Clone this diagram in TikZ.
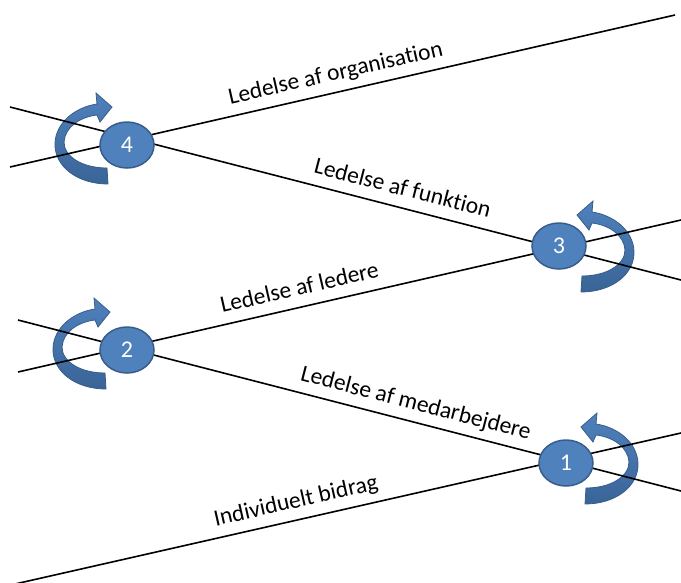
\documentclass[tikz,border=0pt]{standalone}
\usepackage{fontspec}
\setmainfont{Carlito}[Ligatures=NoCommon]
\usetikzlibrary{positioning, shapes.geometric, calc}
\definecolor{stagefill}{HTML}{4F81BD}
\definecolor{stageline}{HTML}{385D8A}
\definecolor{turndark}{HTML}{3A6497}
\tikzset{%
	stage/.style={draw=stageline, line width=1.5pt, ellipse, fill=stagefill,%
		minimum width=54pt, minimum height=46pt, inner sep=0pt,%
		text=white, font=\fontsize{24}{28}\selectfont},
	level/.style={line width=1.6pt, black},
	levellabel/.style={sloped, above, inner sep=0pt, text depth=0pt,%
		outer ysep=12pt, font=\fontsize{23.5}{28}\selectfont},
	turn/.style={draw=stageline, line width=0.8pt, top color=stagefill,%
		bottom color=turndark},
	pics/turnarrow/.style={code={
		\path[turn] (-20,39)
			.. controls (-51,39) and (-74,21) .. (-73,-2)
			.. controls (-72,-23) and (-52,-38) .. (-31,-41)
			-- (-32,-52) -- (-16,-38) -- (-28,-23) -- (-31,-30)
			.. controls (-48,-28) and (-63,-18) .. (-64,-3)
			.. controls (-64,12) and (-45,23) .. (-21,23) -- cycle;
	}}
}

\begin{document}
\begin{tikzpicture}[x=1pt, y=-1pt]
	\useasboundingbox (0,0) rectangle (681,582);

	% line ends
	\coordinate (a0) at (15,584);  \coordinate (a1) at (681,433);
	\coordinate (b0) at (18,320);  \coordinate (b1) at (681,491);
	\coordinate (c0) at (18,372);  \coordinate (c1) at (681,220);
	\coordinate (d0) at (10,107);  \coordinate (d1) at (681,280);
	\coordinate (e0) at (10,167);  \coordinate (e1) at (675,15);

	% turning arrows
	\pic at (128,145) {turnarrow};
	\pic at (126,350) {turnarrow};
	\pic[xscale=-1] at (561,253) {turnarrow};
	\pic[xscale=-1] at (565,465) {turnarrow};

	\draw[level] (a0) -- node[levellabel, pos=0.428]{Individuelt bidrag} (a1);
	\draw[level] (b0) -- node[levellabel, pos=0.593]{Ledelse af medarbejdere} (b1);
	\draw[level] (c0) -- node[levellabel, pos=0.431]{Ledelse af ledere} (c1);
	\draw[level] (d0) -- node[levellabel, pos=0.578]{Ledelse af funktion} (d1);
	\draw[level] (e0) -- node[levellabel, pos=0.496]{Ledelse af organisation} (e1);

	\node[stage] (n1) at (566,463) {1};
	\node[stage] (n2) at (127,350) {2};
	\node[stage] (n3) at (559,246) {3};
	\node[stage] (n4) at (127,145) {4};
\end{tikzpicture}
\end{document}
